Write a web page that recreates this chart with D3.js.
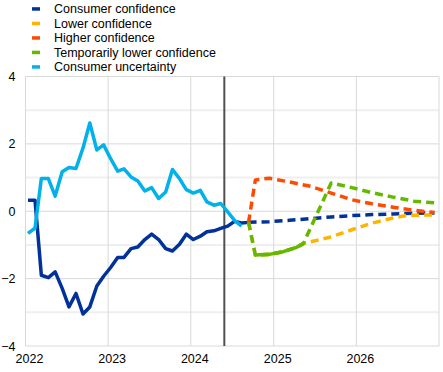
<!DOCTYPE html>
<html>
<head>
<meta charset="utf-8">
<script src="https://cdn.jsdelivr.net/npm/d3@7"></script>
<style>
  body { margin: 0; background: #fff; }
  svg { display: block; font-family: 'Liberation Sans', Arial, sans-serif; }
  .tick text { font-size: 12.5px; fill: #000; }
</style>
</head>
<body>
<svg id="chart" width="443" height="372"></svg>
<script>
// monthly history, Jan 2022 onwards
const histStart = '2022-01';
const confidence = [0.33, 0.33, -1.90, -1.97, -1.80, -2.29, -2.84, -2.44, -3.05, -2.84, -2.22, -1.93,
  -1.67, -1.37, -1.37, -1.11, -1.06, -0.84, -0.68, -0.84, -1.11, -1.18, -0.98, -0.68,
  -0.84, -0.74, -0.61, -0.58, -0.51, -0.44, -0.30, -0.35, -0.33];
const uncertainty = [-0.66, -0.50, 0.97, 0.97, 0.45, 1.17, 1.30, 1.27, 1.88, 2.62, 1.82, 1.97,
  1.56, 1.19, 1.26, 1.02, 0.90, 0.60, 0.70, 0.38, 0.57, 1.24, 0.97, 0.64,
  0.54, 0.62, 0.28, 0.18, 0.23, -0.02, -0.27, -0.44];

// scenario paths (month, value)
const baseMonths = ['2024-09', '2024-12', '2025-03', '2025-06', '2025-09', '2025-12', '2026-03', '2026-06', '2026-09', '2026-12'];
const baseVals = [-0.33, -0.31, -0.27, -0.22, -0.17, -0.13, -0.10, -0.08, -0.06, -0.05];

const lowerMonths = ['2024-09', '2024-10', '2024-12', '2025-02', '2025-04', '2025-05', '2025-09', '2025-12', '2026-03', '2026-06', '2026-08', '2026-12'];
const lowerVals = [-0.33, -1.30, -1.28, -1.20, -1.07, -0.96, -0.76, -0.55, -0.35, -0.20, -0.12, -0.11];

const higherMonths = ['2024-09', '2024-10', '2024-12', '2025-03', '2025-06', '2025-09', '2025-12', '2026-03', '2026-06', '2026-09', '2026-12'];
const higherVals = [-0.33, 0.93, 0.98, 0.87, 0.74, 0.54, 0.34, 0.22, 0.12, 0.03, -0.04];

const tempMonths = ['2024-09', '2024-10', '2024-12', '2025-02', '2025-04', '2025-05', '2025-09', '2025-12', '2026-03', '2026-06', '2026-09', '2026-12'];
const tempVals = [-0.33, -1.30, -1.28, -1.20, -1.07, -0.96, 0.84, 0.70, 0.55, 0.42, 0.30, 0.25];
const tempSolid = [1, 5]; // index range drawn solid

const cutDate = '2024-05-28';
const yTicks = [-4, -2, 0, 2, 4];
const yMinor = [-3, -1, 1, 3];
const years = [2022, 2023, 2024, 2025, 2026, 2027];

const legend = [
  { name: 'Consumer confidence', color: '#003299' },
  { name: 'Lower confidence', color: '#FFB400' },
  { name: 'Higher confidence', color: '#FF4B00' },
  { name: 'Temporarily lower confidence', color: '#65B800' },
  { name: 'Consumer uncertainty', color: '#00B1EA' }
];

const parseMonth = s => new Date(+s.slice(0, 4), +s.slice(5, 7) - 1, 12);
const histMonth = i => {
  const yr = +histStart.slice(0, 4), m = +histStart.slice(5, 7) - 1 + i;
  return new Date(yr, m, 12);
};

const svg = d3.select('#chart');
const plot = { left: 25.5, right: 439, top: 76.5, bottom: 346 };

const x = d3.scaleTime()
  .domain([new Date(2022, 0, 1), new Date(2027, 0, 1)])
  .range([plot.left, plot.right]);
const y = d3.scaleLinear().domain([-4, 4]).range([plot.bottom, plot.top]);

const g = svg.append('g');

// minor horizontal bands
g.selectAll('.minor').data(yMinor).join('line')
  .attr('x1', plot.left).attr('x2', plot.right)
  .attr('y1', d => y(d)).attr('y2', d => y(d))
  .attr('stroke', '#efefef').attr('stroke-width', 2);

// major horizontal grid
g.selectAll('.major').data(yTicks).join('line')
  .attr('x1', plot.left).attr('x2', plot.right)
  .attr('y1', d => y(d)).attr('y2', d => y(d))
  .attr('stroke', '#d9d9d9').attr('stroke-width', 1);

// year grid
g.selectAll('.vgrid').data(years).join('line')
  .attr('x1', d => x(new Date(d, 0, 1))).attr('x2', d => x(new Date(d, 0, 1)))
  .attr('y1', plot.top).attr('y2', plot.bottom)
  .attr('stroke', '#d9d9d9').attr('stroke-width', 1);

// axes
const axisY = d3.axisLeft(y).tickValues(yTicks).tickSize(0).tickPadding(10);
const gy = g.append('g').attr('transform', `translate(${plot.left},0)`).call(axisY);
gy.select('.domain').remove();

const axisX = d3.axisBottom(x)
  .tickValues(years.slice(0, 5).map(d => new Date(d, 0, 1)))
  .tickFormat(d3.timeFormat('%Y'))
  .tickSize(0).tickPadding(8);
const gx = g.append('g').attr('transform', `translate(0,${plot.bottom})`).call(axisX);
gx.select('.domain').remove();
gx.selectAll('text').attr('dx', 3.5);

// cut-off line
g.append('line')
  .attr('x1', x(new Date(cutDate))).attr('x2', x(new Date(cutDate)))
  .attr('y1', plot.top).attr('y2', plot.bottom)
  .attr('stroke', '#505050').attr('stroke-width', 2);

const line = d3.line().x(d => x(d[0])).y(d => y(d[1]));

function drawPath(data, color, dashed, width) {
  g.append('path')
    .datum(data)
    .attr('d', line)
    .attr('fill', 'none')
    .attr('stroke', color)
    .attr('stroke-width', width)
    .attr('stroke-linejoin', 'round')
    .attr('stroke-dasharray', dashed ? '8,5' : null);
}

const confData = confidence.map((v, i) => [histMonth(i), v]);
const uncData = uncertainty.map((v, i) => [histMonth(i), v]);
const zip = (ms, vs) => ms.map((m, i) => [parseMonth(m), vs[i]]);

drawPath(confData, '#003299', false, 3.5);
drawPath(zip(baseMonths, baseVals), '#003299', true, 3.5);
drawPath(zip(lowerMonths, lowerVals), '#FFB400', true, 3.5);
drawPath(zip(higherMonths, higherVals), '#FF4B00', true, 3.5);
const tempData = zip(tempMonths, tempVals);
drawPath(tempData, '#65B800', true, 3.5);
drawPath(tempData.slice(tempSolid[0], tempSolid[1] + 1), '#65B800', false, 3.5);
drawPath(uncData, '#00B1EA', false, 3.5);

// legend
const lg = svg.append('g').attr('transform', 'translate(32,0)');
const item = lg.selectAll('g').data(legend).join('g')
  .attr('transform', (d, i) => `translate(0,${8.7 + i * 14.5})`);
item.append('rect')
  .attr('x', 0).attr('y', -1.5).attr('width', 8).attr('height', 3.5)
  .attr('fill', d => d.color);
item.append('text')
  .attr('x', 22).attr('y', 0).attr('dy', '0.35em')
  .style('font-size', '12.5px')
  .text(d => d.name);
</script>
</body>
</html>
